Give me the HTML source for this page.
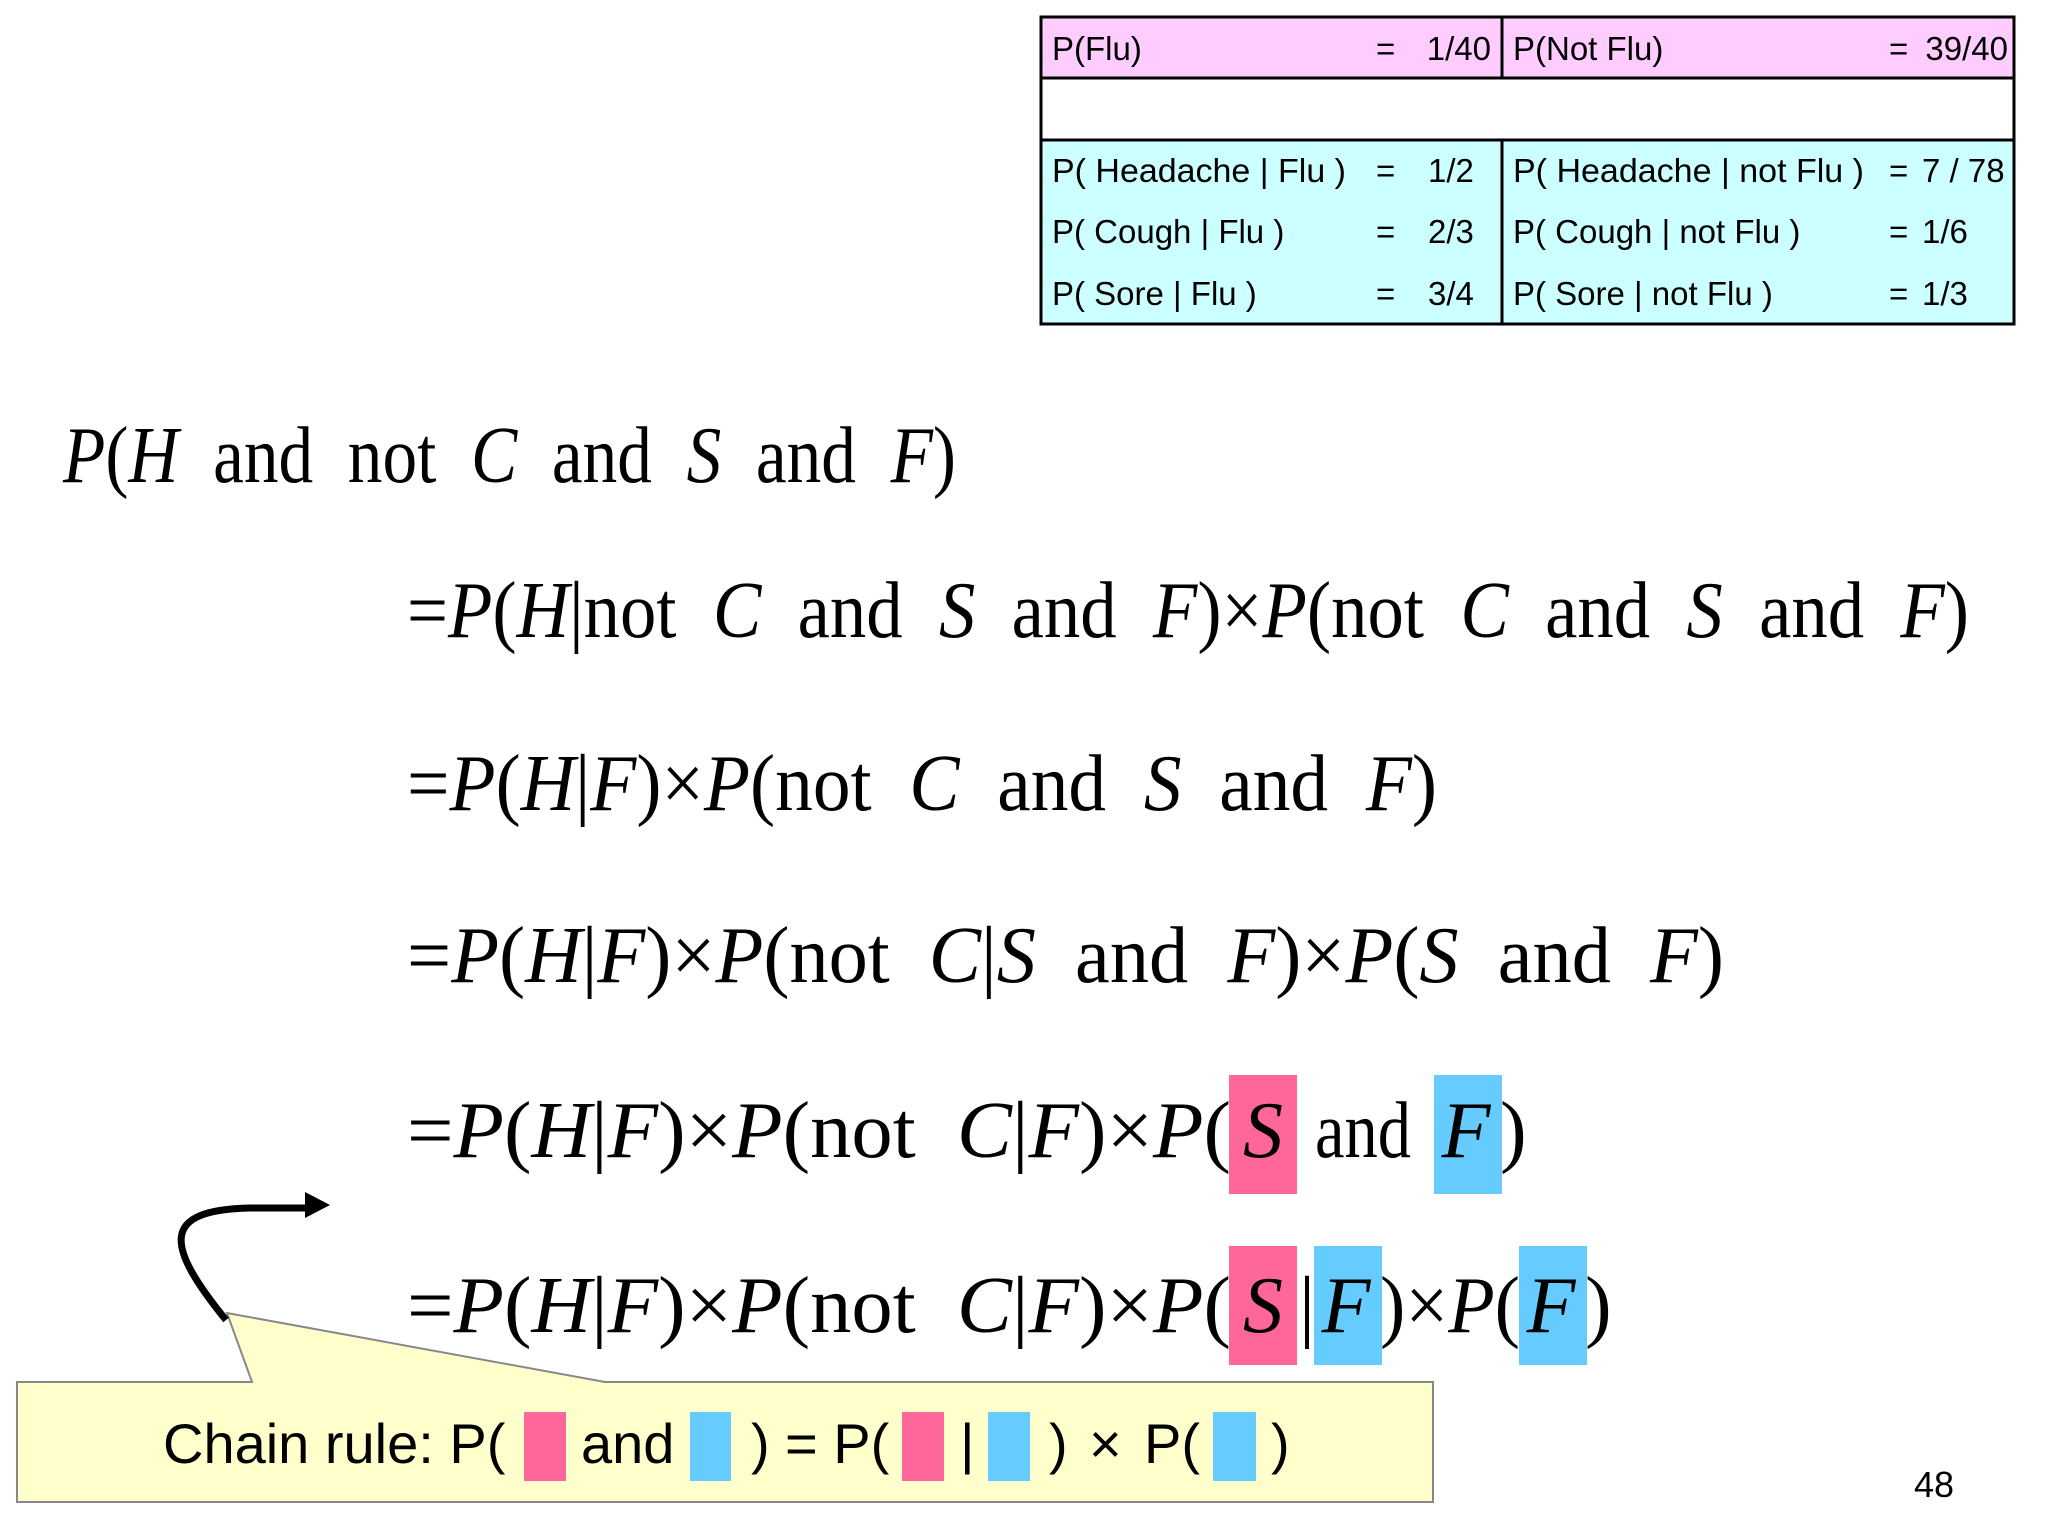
<!DOCTYPE html>
<html><head><meta charset="utf-8"><style>
html,body{margin:0;padding:0;background:#fff;}
svg{display:block}
.m{font-family:"Liberation Serif",serif;font-size:80px;fill:#000}
.i{font-style:italic}
.s{font-family:"Liberation Sans",sans-serif;fill:#000}
</style></head><body>
<svg width="2048" height="1536" viewBox="0 0 2048 1536" xmlns="http://www.w3.org/2000/svg">
<rect x="1041" y="17" width="973" height="61" fill="#ffccff"/>
<rect x="1041" y="78" width="973" height="62" fill="#fff"/>
<rect x="1041" y="140" width="973" height="184" fill="#ccffff"/>
<g stroke="#000" stroke-width="3" fill="none">
<rect x="1041" y="17" width="973" height="307"/>
<line x1="1041" y1="78" x2="2014" y2="78"/>
<line x1="1041" y1="140" x2="2014" y2="140"/>
<line x1="1502" y1="17" x2="1502" y2="78"/>
<line x1="1502" y1="140" x2="1502" y2="324"/>
</g>
<g class="s" font-size="33">
<text x="1052" y="60">P(Flu)</text><text x="1376" y="60">=</text><text x="1491" y="60" text-anchor="end">1/40</text>
<text x="1513" y="60">P(Not Flu)</text><text x="1889" y="60">=</text><text x="2008" y="60" text-anchor="end">39/40</text>
<text x="1052" y="182" textLength="294" lengthAdjust="spacingAndGlyphs">P( Headache | Flu )</text><text x="1376" y="182">=</text><text x="1428" y="182">1/2</text>
<text x="1052" y="243">P( Cough | Flu )</text><text x="1376" y="243">=</text><text x="1428" y="243">2/3</text>
<text x="1052" y="305">P( Sore | Flu )</text><text x="1376" y="305">=</text><text x="1428" y="305">3/4</text>
<text x="1513" y="182" textLength="351" lengthAdjust="spacingAndGlyphs">P( Headache | not Flu )</text><text x="1889" y="182">=</text><text x="1922" y="182">7 / 78</text>
<text x="1513" y="243">P( Cough | not Flu )</text><text x="1889" y="243">=</text><text x="1922" y="243">1/6</text>
<text x="1513" y="305">P( Sore | not Flu )</text><text x="1889" y="305">=</text><text x="1922" y="305">1/3</text>
</g>
<rect x="1229" y="1075" width="68" height="119" fill="#ff6699"/>
<rect x="1434" y="1075" width="68" height="119" fill="#66ccff"/>
<rect x="1229" y="1246" width="68" height="119" fill="#ff6699"/>
<rect x="1314" y="1246" width="68" height="119" fill="#66ccff"/>
<rect x="1519" y="1246" width="68" height="119" fill="#66ccff"/>
<text class="m" x="63" y="482" textLength="893" lengthAdjust="spacingAndGlyphs" xml:space="preserve"><tspan class="i">P</tspan>(<tspan class="i">H</tspan>  and  not  <tspan class="i">C</tspan>  and  <tspan class="i">S</tspan>  and  <tspan class="i">F</tspan>)</text>
<text class="m" x="407" y="637" textLength="1562" lengthAdjust="spacingAndGlyphs" xml:space="preserve">=<tspan class="i">P</tspan>(<tspan class="i">H</tspan>|not  <tspan class="i">C</tspan>  and  <tspan class="i">S</tspan>  and  <tspan class="i">F</tspan>)×<tspan class="i">P</tspan>(not  <tspan class="i">C</tspan>  and  <tspan class="i">S</tspan>  and  <tspan class="i">F</tspan>)</text>
<text class="m" x="407" y="810" textLength="1030" lengthAdjust="spacingAndGlyphs" xml:space="preserve">=<tspan class="i">P</tspan>(<tspan class="i">H</tspan>|<tspan class="i">F</tspan>)×<tspan class="i">P</tspan>(not  <tspan class="i">C</tspan>  and  <tspan class="i">S</tspan>  and  <tspan class="i">F</tspan>)</text>
<text class="m" x="407" y="982" textLength="1317" lengthAdjust="spacingAndGlyphs" xml:space="preserve">=<tspan class="i">P</tspan>(<tspan class="i">H</tspan>|<tspan class="i">F</tspan>)×<tspan class="i">P</tspan>(not  <tspan class="i">C</tspan>|<tspan class="i">S</tspan>  and  <tspan class="i">F</tspan>)×<tspan class="i">P</tspan>(<tspan class="i">S</tspan>  and  <tspan class="i">F</tspan>)</text>
<text class="m" x="407" y="1157" textLength="824" lengthAdjust="spacingAndGlyphs" xml:space="preserve">=<tspan class="i">P</tspan>(<tspan class="i">H</tspan>|<tspan class="i">F</tspan>)×<tspan class="i">P</tspan>(not  <tspan class="i">C</tspan>|<tspan class="i">F</tspan>)×<tspan class="i">P</tspan>(</text>
<text class="m i" x="1263" y="1157" text-anchor="middle">S</text>
<text class="m" x="1315" y="1157" textLength="96" lengthAdjust="spacingAndGlyphs">and</text>
<text class="m i" x="1466" y="1157" text-anchor="middle">F</text>
<text class="m" x="1500" y="1157">)</text>
<text class="m" x="407" y="1332" textLength="824" lengthAdjust="spacingAndGlyphs" xml:space="preserve">=<tspan class="i">P</tspan>(<tspan class="i">H</tspan>|<tspan class="i">F</tspan>)×<tspan class="i">P</tspan>(not  <tspan class="i">C</tspan>|<tspan class="i">F</tspan>)×<tspan class="i">P</tspan>(</text>
<text class="m i" x="1263" y="1332" text-anchor="middle">S</text>
<text class="m" x="1299" y="1332">|</text>
<text class="m i" x="1346" y="1332" text-anchor="middle">F</text>
<text class="m" x="1380" y="1332" textLength="140" lengthAdjust="spacingAndGlyphs">)×<tspan class="i">P</tspan>(</text>
<text class="m i" x="1551" y="1332" text-anchor="middle">F</text>
<text class="m" x="1585" y="1332">)</text>
<path d="M17,1382 L252,1382 L227,1313 L605,1382 L1433,1382 L1433,1502 L17,1502 Z" fill="#ffffcc" stroke="#888" stroke-width="2"/>
<rect x="524" y="1412" width="42" height="69" fill="#ff6699"/>
<rect x="690" y="1412" width="41" height="69" fill="#66ccff"/>
<rect x="902" y="1412" width="42" height="69" fill="#ff6699"/>
<rect x="988" y="1412" width="42" height="69" fill="#66ccff"/>
<rect x="1213" y="1412" width="43" height="69" fill="#66ccff"/>
<g class="s" font-size="56">
<text x="163" y="1463">Chain rule: P(</text>
<text x="581" y="1463">and</text>
<text x="751" y="1463">)</text>
<text x="785" y="1463">= P(</text>
<text x="960" y="1463">|</text>
<text x="1049" y="1463">)</text>
<text x="1089" y="1463">×</text>
<text x="1144" y="1463">P(</text>
<text x="1271" y="1463">)</text>
</g>
<path d="M226,1320 C165,1245 160,1210 250,1208 L310,1208" fill="none" stroke="#000" stroke-width="7"/>
<path d="M305,1192 L330,1205 L305,1218 Z" fill="#000"/>
<text class="s" x="1914" y="1497" font-size="36">48</text>
</svg>
</body></html>
